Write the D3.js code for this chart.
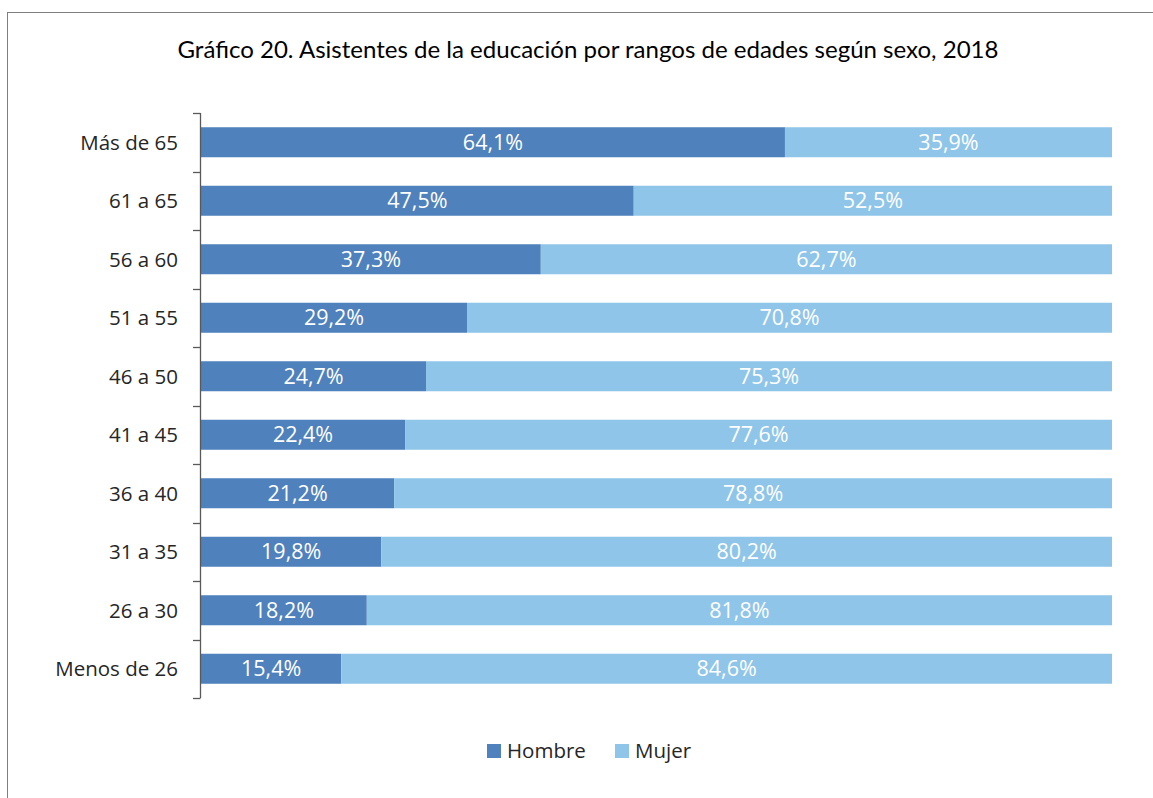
<!DOCTYPE html>
<html><head><meta charset="utf-8">
<script src="https://cdn.jsdelivr.net/npm/d3@7"></script>
<style>body{margin:0;background:#fff}svg{display:block}</style>
</head><body>
<svg id="chart" width="1153" height="798"></svg>
<script>
const categories = ["Más de 65","61 a 65","56 a 60","51 a 55","46 a 50","41 a 45","36 a 40","31 a 35","26 a 30","Menos de 26"];
const hombre = [64.1,47.5,37.3,29.2,24.7,22.4,21.2,19.8,18.2,15.4];
const mujer  = [35.9,52.5,62.7,70.8,75.3,77.6,78.8,80.2,81.8,84.6];
const seriesNames = ["Hombre","Mujer"];
const colors = ["#4f81bd","#8fc5e9"];
const title = "Gráfico 20. Asistentes de la educación por rangos de edades según sexo, 2018";

const svg = d3.select("#chart");
svg.append("rect").attr("x",7.5).attr("y",12.5).attr("width",1160).attr("height",800)
  .attr("fill","none").attr("stroke","#7f7f7f").attr("stroke-width",1);

svg.append("text").attr("x",588).attr("y",58).attr("text-anchor","middle")
  .attr("font-family","Lato, 'Open Sans', sans-serif").attr("font-size",24)
  .attr("textLength",821).attr("lengthAdjust","spacingAndGlyphs")
  .attr("fill","#000").text(title);

const x = d3.scaleLinear().domain([0,100]).range([201,1112]);
const y = d3.scaleBand().domain(categories).range([113,698]).paddingInner(0.487).paddingOuter(0.2435);

const rows = categories.map((c,i)=>({cat:c, vals:[hombre[i], mujer[i]]}));
const stackData = rows.map(r=>{ let acc=0; return r.vals.map((v,k)=>{const s={cat:r.cat,k,v,x0:acc,x1:acc+v}; acc+=v; return s;}); }).flat();

const g = svg.append("g");
g.selectAll("rect.bar").data(stackData).join("rect").attr("class","bar")
  .attr("x",d=>x(d.x0)).attr("width",d=>x(d.x1)-x(d.x0))
  .attr("y",d=>y(d.cat)).attr("height",y.bandwidth())
  .attr("fill",d=>colors[d.k]);

g.selectAll("text.lbl").data(stackData).join("text").attr("class","lbl")
  .attr("x",d=>(x(d.x0)+x(d.x1))/2).attr("y",d=>y(d.cat)+y.bandwidth()/2)
  .attr("dy","0.36em").attr("text-anchor","middle")
  .attr("font-family","'Open Sans', sans-serif").attr("font-size",21.5).attr("font-weight",500)
  .attr("fill","#fff")
  .text(d=>d.v.toFixed(1).replace(".",",")+"%");

const axisX = 200.5;
svg.append("line").attr("x1",axisX).attr("x2",axisX).attr("y1",113).attr("y2",698)
  .attr("stroke","#595959").attr("stroke-width",1.3);
const tickYs = categories.map(c=>y(c)-y.step()*y.paddingInner()/2).concat([698]);
svg.selectAll("line.tick").data(tickYs).join("line").attr("class","tick")
  .attr("x1",193).attr("x2",axisX).attr("y1",d=>Math.round(d)+0.5).attr("y2",d=>Math.round(d)+0.5)
  .attr("stroke","#595959").attr("stroke-width",1.3);
svg.selectAll("text.cat").data(categories).join("text").attr("class","cat")
  .attr("x",178).attr("y",d=>y(d)+y.bandwidth()/2).attr("dy","0.36em")
  .attr("text-anchor","end").attr("font-family","'Open Sans', sans-serif").attr("font-size",20.5)
  .attr("fill","#262626").text(d=>d);

const legX = [487, 615];
const leg = svg.selectAll("g.leg").data(seriesNames).join("g").attr("class","leg")
  .attr("transform",(d,i)=>`translate(${legX[i]},751)`);
leg.append("rect").attr("x",0).attr("y",-7).attr("width",14).attr("height",14).attr("fill",(d,i)=>colors[i]);
leg.append("text").attr("x",20).attr("dy","0.36em").attr("font-family","'Open Sans', sans-serif")
  .attr("font-size",20.5).attr("fill","#262626").text(d=>d);
</script>
</body></html>
